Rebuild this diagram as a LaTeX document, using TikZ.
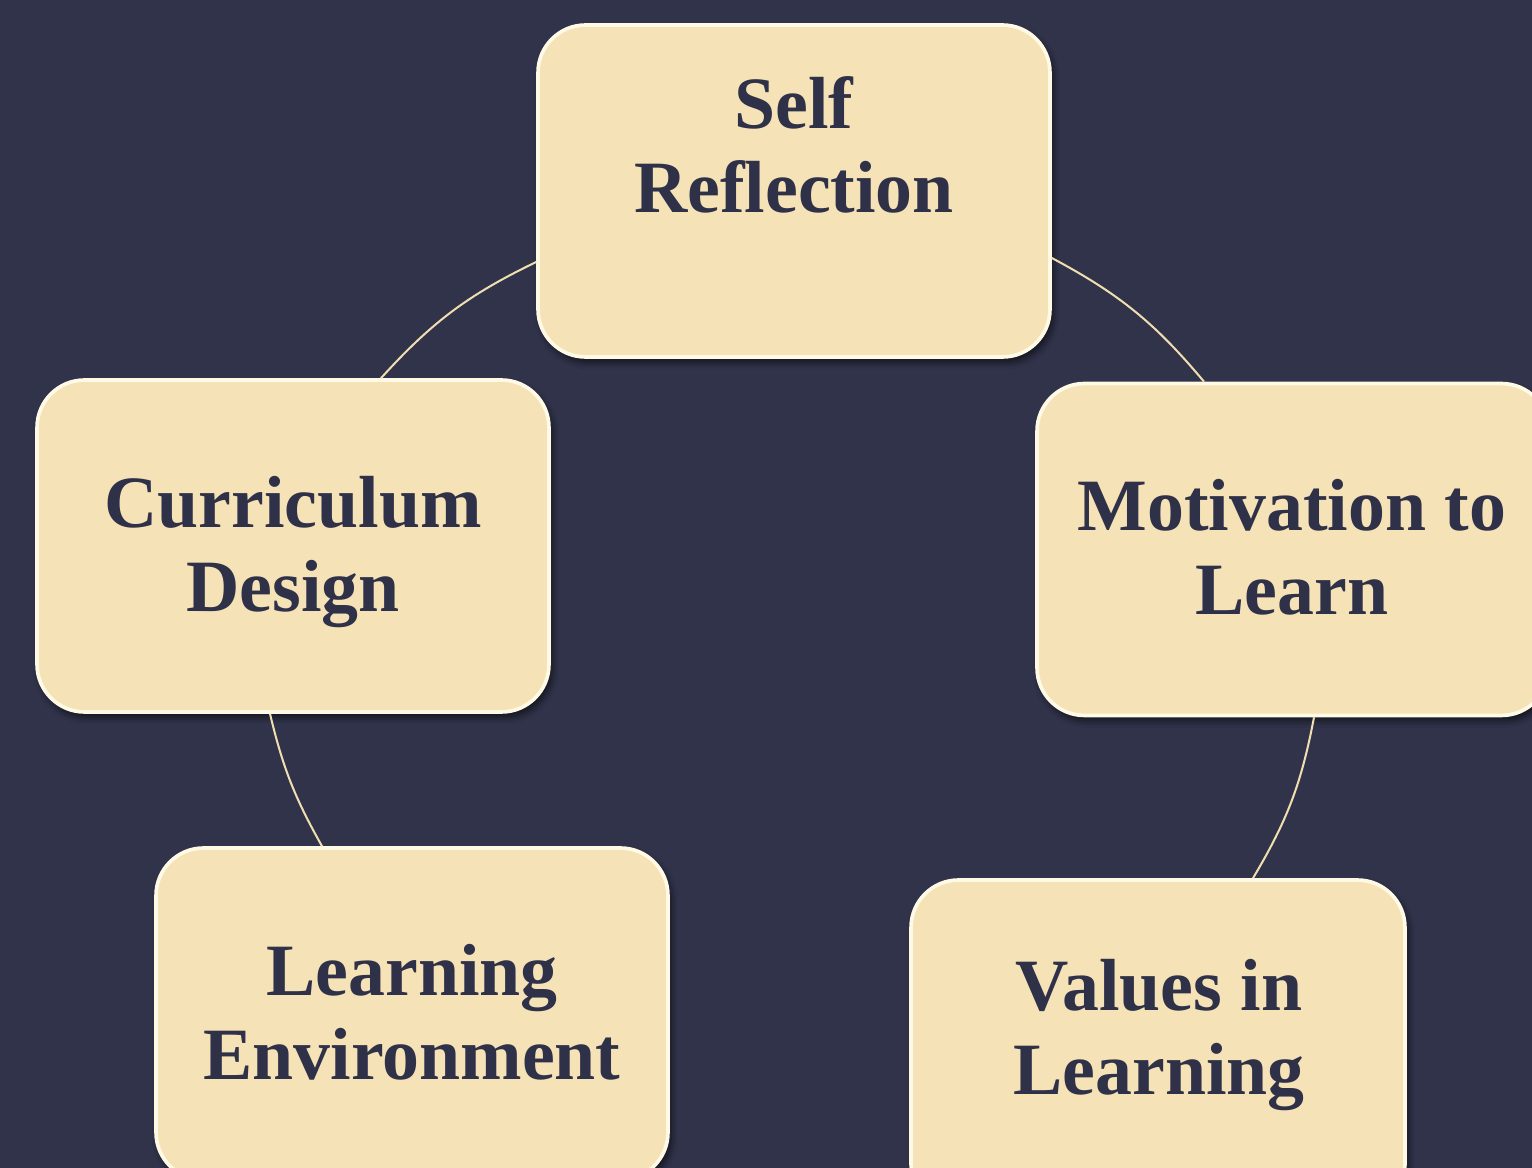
\documentclass[tikz,border=0pt]{standalone}
\usepackage{fontspec}
\setmainfont{Liberation Serif}
\usetikzlibrary{shadows.blur}
\definecolor{bg}{HTML}{30334A}
\definecolor{cardfill}{HTML}{F5E2B6}
\definecolor{cardedge}{HTML}{FFFAE6}
\definecolor{ink}{HTML}{2F3148}
\definecolor{linkcol}{HTML}{F0DDB0}
\tikzset{
  card/.style={rectangle, rounded corners=0.95cm, fill=cardfill, draw=cardedge,
    line width=2.1pt, minimum width=10.24cm, minimum height=6.64cm, inner sep=0pt,
    blur shadow={shadow xshift=0.06cm, shadow yshift=-0.1cm,
      shadow blur radius=0.14cm, shadow opacity=65}},
  cardtext/.style={align=center, text=ink, inner sep=0pt,
    font=\fontsize{42}{47.6}\selectfont\bfseries},
  link/.style={draw=linkcol, line width=1.15pt}
}
\begin{document}
\begin{tikzpicture}[x=0.02cm, y=-0.02cm]
  \fill[bg] (0,0) rectangle (1532,1168);
  \useasboundingbox (0,0) rectangle (1532,1168);

  % centres of the five cards
  \coordinate (selfC) at (794,191);
  \coordinate (currC) at (293,546);
  \coordinate (motC) at (1293,549.5);
  \coordinate (envC) at (412,1014);
  \coordinate (valC) at (1158,1046);

  % cards
  \node[card] (self) at (selfC) {};
  \node[card] (curr) at (currC) {};
  \node[card] (mot) at (motC) {};
  \node[card] (env) at (envC) {};
  \node[card, minimum width=9.88cm] (val) at (valC) {};

  % arcs between neighbouring cards
  \draw[link] ([yshift=-1.42cm]self.west) to[bend right=11] ([xshift=1.76cm]curr.north);
  \draw[link] ([yshift=-1.34cm]self.east) to[bend left=11] ([xshift=-1.78cm]mot.north);
  \draw[link] ([xshift=-0.46cm]curr.south) to[bend right=8] ([xshift=-1.8cm]env.north);
  \draw[link] ([xshift=0.42cm]mot.south) to[bend left=10] ([xshift=1.9cm]val.north);

  % card labels
  \node[cardtext] (selfT) at (794,145) {Self\\Reflection};
  \node[cardtext] (currT) at (293,552) {Curriculum\\Design};
  \node[cardtext] (motT) at (1292,547) {Motivation to\\Learn};
  \node[cardtext] (envT) at (412,1012) {Learning\\Environment};
  \node[cardtext] (valT) at (1159,1035) {Values in\\Learning};
\end{tikzpicture}
\end{document}
